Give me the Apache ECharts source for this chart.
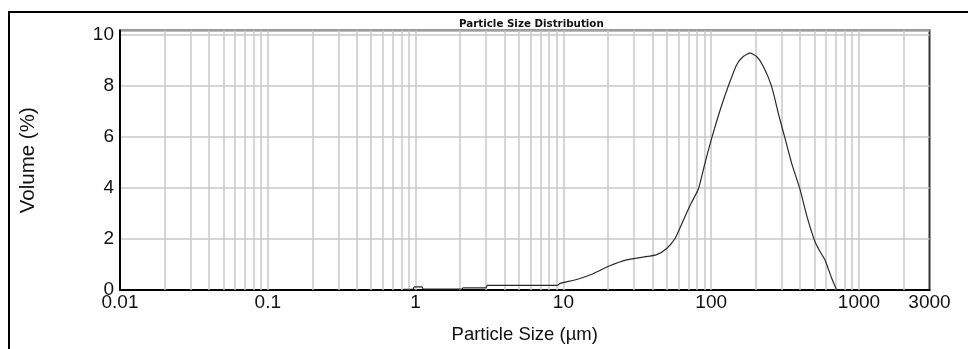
<!DOCTYPE html>
<html>
<head>
<meta charset="utf-8">
<script src="https://cdn.jsdelivr.net/npm/echarts@6/dist/echarts.min.js"></script>
<style>
  html, body { margin: 0; padding: 0; background: #fff; }
  #chart { width: 968px; height: 349px; }
</style>
</head>
<body>
<div id="chart"></div>
<script>
// ---- data ----
const chartTitle = 'Particle Size Distribution';
const xAxisName = 'Particle Size (µm)';
const yAxisName = 'Volume (%)';
const xTickLabels = ['0.01', '0.1', '1', '10', '100', '1000', '3000'];
const yTickLabels = ['0', '2', '4', '6', '8', '10'];

// particle size (µm)
const sizes = [
  0.83, 0.96, 0.98, 1.1, 1.13, 2.06, 2.09, 3.0, 3.05, 9.1,
  9.48, 12.3, 15.9, 20.6, 26.8, 34.7, 42.8, 50.0, 56.9, 64.7,
  73.7, 81.8, 90.8, 100.7, 114.7, 130.6, 148.7, 164.9, 183.1, 203,
  225, 256, 289, 316, 350, 399, 443, 504, 545, 589,
  653, 706
];
// volume (%)
const volumes = [
  0.03, 0.03, 0.12, 0.12, 0.04, 0.04, 0.08, 0.08, 0.18, 0.18,
  0.26, 0.41, 0.64, 0.95, 1.18, 1.29, 1.39, 1.63, 2.02, 2.73,
  3.44, 3.95, 4.98, 5.95, 7.04, 8.00, 8.84, 9.16, 9.29, 9.16,
  8.78, 8.00, 6.78, 5.95, 4.98, 3.95, 2.92, 1.89, 1.51, 1.18,
  0.47, 0.0
];

// log grid: 1..9 x each decade, within the axis range
const xMin = 0.01, xMax = 3000;
const gridMantissas = [1, 2, 3, 4, 5, 6, 7, 8, 9];
const gridDecades = [0.01, 0.1, 1, 10, 100, 1000];

const xGridValues = [];
gridDecades.forEach(d => gridMantissas.forEach(m => {
  const v = +(m * d).toPrecision(6);
  if (v > xMin && v < xMax) xGridValues.push(v);
}));

const font = "'Liberation Sans', Arial, sans-serif";
const chart = echarts.init(document.getElementById('chart'), null, { renderer: 'canvas' });

chart.setOption({
  animation: false,
  backgroundColor: '#ffffff',
  title: {
    text: chartTitle,
    left: 454,
    top: 14,
    textStyle: { fontFamily: 'DejaVu Sans', fontWeight: 'bold', fontSize: 10.3, color: '#111' }
  },
  graphic: [{
    type: 'polyline',
    shape: { points: [[9, 349], [9, 12], [968, 12]] },
    style: { stroke: '#000', lineWidth: 2, fill: null },
    silent: true
  }],
  grid: {
    left: 120, right: 38.5, top: 30.5, bottom: 55,
    show: true, borderColor: '#333', borderWidth: 2, backgroundColor: 'transparent'
  },
  xAxis: {
    type: 'log',
    logBase: 10,
    min: xMin,
    max: xMax,
    name: xAxisName,
    nameLocation: 'middle',
    nameGap: 35,
    nameTextStyle: { fontFamily: font, fontSize: 18.5, color: '#111' },
    axisLine: { show: true, lineStyle: { color: '#000', width: 2 } },
    axisTick: { show: false },
    splitLine: { show: false },
    minorSplitLine: { show: false },
    axisLabel: {
      fontFamily: font, fontSize: 19, color: '#111', margin: 3,
      showMinLabel: true, showMaxLabel: true,
      formatter: v => {
        const s = String(+(+v).toPrecision(4));
        return xTickLabels.includes(s) ? s : '';
      }
    }
  },
  yAxis: {
    type: 'value',
    min: 0,
    max: 10.18,
    interval: 2,
    name: yAxisName,
    nameLocation: 'middle',
    nameGap: 81,
    nameTextStyle: { fontFamily: font, fontSize: 20.5, color: '#111' },
    axisLine: { show: true, lineStyle: { color: '#000', width: 2 } },
    axisTick: { show: false },
    splitLine: { show: true, lineStyle: { color: '#c8c8c8', width: 1.5 } },
    axisLabel: {
      fontFamily: font, fontSize: 19, color: '#111', margin: 6,
      formatter: v => {
        const s = String(+(+v).toPrecision(4));
        return yTickLabels.includes(s) ? s : '';
      }
    }
  },
  series: [
    {
      type: 'line',
      data: [],
      silent: true,
      z: 1,
      markLine: {
        silent: true,
        symbol: ['none', 'none'],
        label: { show: false },
        lineStyle: { color: '#c8c8c8', width: 1.5, type: 'solid' },
        emphasis: { disabled: true },
        animation: false,
        data: xGridValues.map(v => ({ xAxis: v }))
      }
    },
    {
      type: 'line',
      data: sizes.map((s, i) => [s, volumes[i]]),
      showSymbol: false,
      symbol: 'none',
      smooth: 0.2,
      z: 5,
      lineStyle: { color: '#2a2a2a', width: 1.2 }
    }
  ]
});
</script>
</body>
</html>
